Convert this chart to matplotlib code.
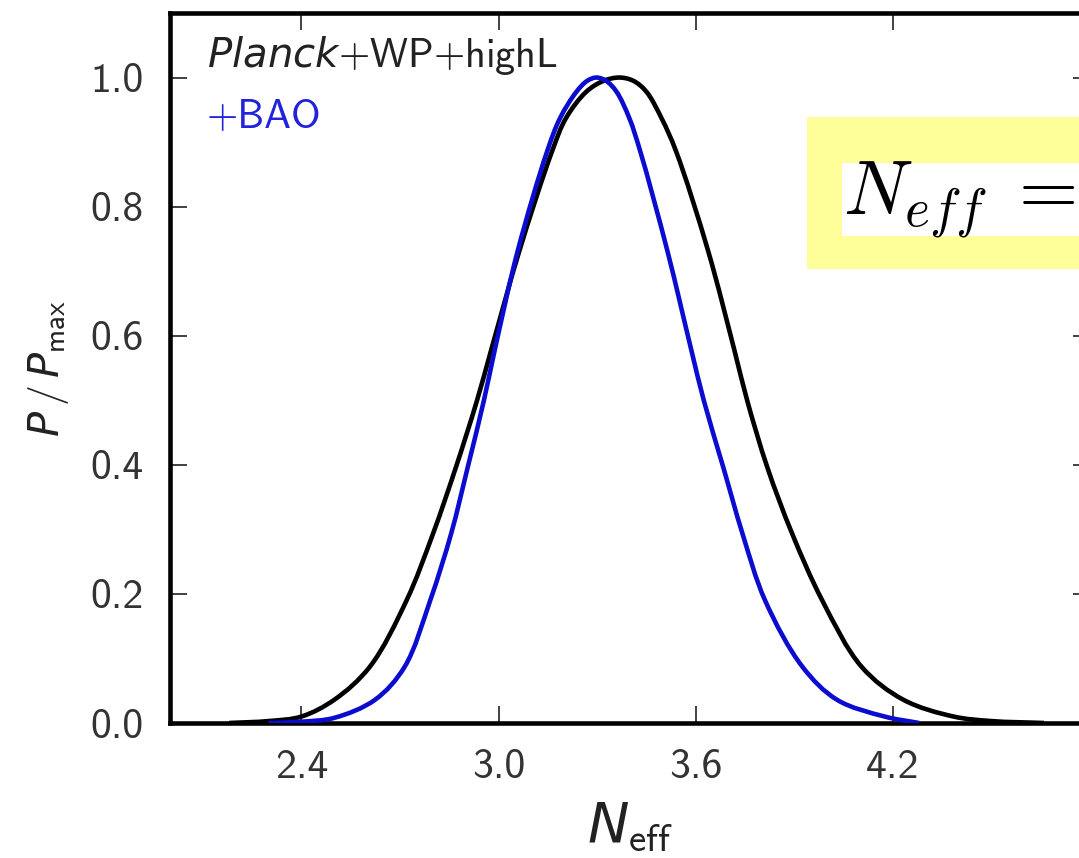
import matplotlib
matplotlib.use("Agg")
import matplotlib.pyplot as plt
import numpy as np
from matplotlib.patches import Rectangle, PathPatch
from matplotlib.path import Path

# ---------------- data ----------------
black_x = [2.18, 2.30, 2.40, 2.500, 2.608, 2.720, 2.801, 2.870, 2.934, 2.977,
           3.063, 3.163, 3.205, 3.267, 3.32, 3.368, 3.41, 3.450, 3.496, 3.540,
           3.638, 3.718, 3.757, 3.818, 3.893, 3.985, 4.105, 4.232, 4.385, 4.50, 4.66]
black_y = [0.0, 0.003, 0.010, 0.036, 0.087, 0.190, 0.294, 0.396, 0.499, 0.577,
           0.731, 0.886, 0.937, 0.978, 0.995, 1.0, 0.995, 0.978, 0.937, 0.886,
           0.731, 0.577, 0.499, 0.396, 0.294, 0.190, 0.087, 0.036, 0.010, 0.003, 0.0]

blue_x = [2.30, 2.40, 2.50, 2.624, 2.714, 2.792, 2.856, 2.906, 2.955, 2.988,
          3.058, 3.148, 3.187, 3.237, 3.27, 3.298, 3.327, 3.359, 3.398, 3.431,
          3.514, 3.587, 3.625, 3.684, 3.742, 3.811, 3.925, 4.030, 4.175, 4.28]
blue_y = [0.0, 0.002, 0.008, 0.036, 0.087, 0.190, 0.294, 0.396, 0.499, 0.577,
          0.731, 0.886, 0.937, 0.978, 0.995, 1.0, 0.995, 0.978, 0.937, 0.886,
          0.731, 0.577, 0.499, 0.396, 0.294, 0.190, 0.087, 0.036, 0.010, 0.0]

x_ticks = [2.4, 3.0, 3.6, 4.2]
x_tick_labels = ["2.4", "3.0", "3.6", "4.2"]
y_ticks = [0.0, 0.2, 0.4, 0.6, 0.8, 1.0]
y_tick_labels = ["0.0", "0.2", "0.4", "0.6", "0.8", "1.0"]

label_black = r"$\mathit{Planck}$+WP+highL"
label_blue = "+BAO"
annotation = r"$N_{eff}\;=$"

# ---------------- style ----------------
plt.rcParams["font.family"] = ["cmss10", "DejaVu Sans"]
plt.rcParams["mathtext.fontset"] = "custom"
plt.rcParams["mathtext.it"] = "DejaVu Sans:italic"
plt.rcParams["mathtext.rm"] = "cmss10"
plt.rcParams["mathtext.sf"] = "cmss10"

W, H = 1079, 858
fig = plt.figure(figsize=(W / 100, H / 100), dpi=100)

ax_l, ax_r, ax_t, ax_b = 170, 1090, 13, 723
ax = fig.add_axes([ax_l / W, 1 - ax_b / H, (ax_r - ax_l) / W, (ax_b - ax_t) / H])
XLIM = (2.0, 4.8)
YLIM = (0.0, 1.1)


def smooth_curve(xs, ys, alpha=0.5):
    """Centripetal Catmull-Rom spline (as cubic Bezier) through the given points."""
    sx = (ax_r - ax_l) / (XLIM[1] - XLIM[0])
    sy = (ax_b - ax_t) / (YLIM[1] - YLIM[0])
    pts = np.column_stack([np.asarray(xs) * sx, np.asarray(ys) * sy]).astype(float)
    n = len(pts)
    verts = [pts[0]]
    codes = [Path.MOVETO]
    for i in range(n - 1):
        p1, p2 = pts[i], pts[i + 1]
        d2 = np.linalg.norm(p2 - p1) ** alpha
        if i > 0:
            p0 = pts[i - 1]
            d1 = np.linalg.norm(p1 - p0) ** alpha
            c1 = (d1 ** 2 * p2 - d2 ** 2 * p0 + (2 * d1 ** 2 + 3 * d1 * d2 + d2 ** 2) * p1) \
                / (3 * d1 * (d1 + d2))
        else:
            c1 = p1 + (p2 - p1) / 3.0
        if i + 2 < n:
            p3 = pts[i + 2]
            d3 = np.linalg.norm(p3 - p2) ** alpha
            c2 = (d3 ** 2 * p1 - d2 ** 2 * p3 + (2 * d3 ** 2 + 3 * d3 * d2 + d2 ** 2) * p2) \
                / (3 * d3 * (d3 + d2))
        else:
            c2 = p2 - (p2 - p1) / 3.0
        verts += [c1, c2, p2]
        codes += [Path.CURVE4] * 3
    verts = np.array(verts)
    verts[:, 0] /= sx
    verts[:, 1] /= sy
    return Path(verts, codes)


ax.add_patch(PathPatch(smooth_curve(black_x, black_y), fill=False,
                       edgecolor="black", lw=3.3, joinstyle="round", zorder=2))
ax.add_patch(PathPatch(smooth_curve(blue_x, blue_y), fill=False,
                       edgecolor="#0c0cd0", lw=3.3, joinstyle="round", zorder=3))

ax.set_xlim(*XLIM)
ax.set_ylim(*YLIM)
ax.set_xticks(x_ticks)
ax.set_xticklabels(x_tick_labels)
ax.set_yticks(y_ticks)
ax.set_yticklabels(y_tick_labels)

for s in ax.spines.values():
    s.set_linewidth(3.3)
    s.set_color("black")

ax.tick_params(axis="both", which="major", direction="in", length=12, width=1.3,
               color="#333333", labelsize=30, labelcolor="#333333", pad=19,
               top=True, right=True)

ax.set_xlabel(r"$N_{\rm eff}$", fontsize=40, color="#222222", labelpad=10)
ax.set_ylabel(r"$P\,/\,P_{\rm max}$", fontsize=30, color="#222222", labelpad=14)

ax.text(207 / W, 1 - 67 / H, label_black, transform=fig.transFigure,
        fontsize=29, color="#222222", ha="left", va="baseline")
ax.text(207 / W, 1 - 128 / H, label_blue, transform=fig.transFigure,
        fontsize=29, color="#2222dd", ha="left", va="baseline")

# highlighted annotation box (extends past the right edge)
fig.add_artist(Rectangle((807 / W, 1 - 269 / H), (W + 20 - 807) / W, (269 - 117) / H,
                         transform=fig.transFigure, facecolor="#ffff99",
                         edgecolor="none", zorder=5))
fig.add_artist(Rectangle((842 / W, 1 - 236 / H), (W + 20 - 842) / W, (236 - 163) / H,
                         transform=fig.transFigure, facecolor="white",
                         edgecolor="none", zorder=6))
fig.text(843 / W, 1 - 215 / H, annotation, fontsize=55, color="black",
         ha="left", va="baseline", math_fontfamily="cm", zorder=7)

fig.savefig("out.png", dpi=100)
